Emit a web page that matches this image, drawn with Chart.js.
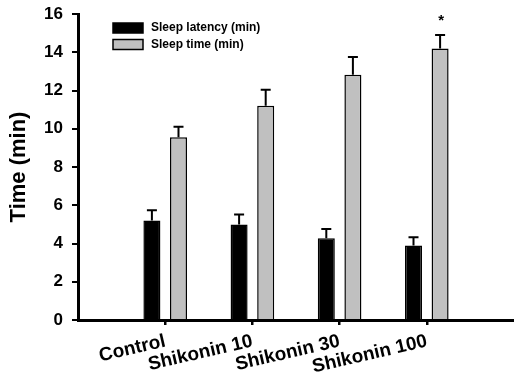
<!DOCTYPE html>
<html>
<head>
<meta charset="utf-8">
<script src="https://cdn.jsdelivr.net/npm/chart.js@4/dist/chart.umd.min.js"></script>
<style>
  html, body { margin: 0; padding: 0; background: #fff; }
  #wrap { width: 514px; height: 375px; }
</style>
</head>
<body>
<div id="wrap"><canvas id="sleep"></canvas></div>
<script>
const categories = ['Control', 'Shikonin 10', 'Shikonin 30', 'Shikonin 100'];
const latency = [5.2, 5.0, 4.27, 3.9];
const latencyErr = [0.54, 0.51, 0.49, 0.43];
const sleepTime = [9.55, 11.2, 12.82, 14.2];
const sleepErr = [0.55, 0.84, 0.93, 0.7];
const sleepSig = ['', '', '', '*'];
const yTicks = [0, 2, 4, 6, 8, 10, 12, 14, 16];

const FONT = 'Liberation Sans, Arial, sans-serif';
const errors = [latencyErr, sleepErr];
const marks = [null, sleepSig];

// upper error bars + significance star
const errorBars = {
    id: 'errorBars',
    afterDatasetsDraw(chart) {
        const ctx = chart.ctx;
        const y = chart.scales.y;
        ctx.save();
        ctx.strokeStyle = '#000';
        ctx.lineWidth = 2;
        chart.data.datasets.forEach((ds, d) => {
            chart.getDatasetMeta(d).data.forEach((bar, i) => {
                const top = y.getPixelForValue(ds.data[i].y + errors[d][i]);
                ctx.beginPath();
                ctx.moveTo(bar.x, bar.y);
                ctx.lineTo(bar.x, top);
                ctx.moveTo(bar.x - 5, top);
                ctx.lineTo(bar.x + 5, top);
                ctx.stroke();
                if (marks[d] && marks[d][i]) {
                    ctx.fillStyle = '#000';
                    ctx.font = 'bold 15px ' + FONT;
                    ctx.textAlign = 'center';
                    ctx.textBaseline = 'middle';
                    ctx.fillText(marks[d][i], bar.x + 1, top - 14);
                }
            });
        });
        ctx.restore();
    }
};

// legend drawn inside the plot, top left
const innerLegend = {
    id: 'innerLegend',
    afterDraw(chart) {
        const ctx = chart.ctx;
        const x0 = chart.chartArea.left + 35;
        ctx.save();
        ctx.font = 'bold 12px ' + FONT;
        ctx.textBaseline = 'middle';
        ctx.textAlign = 'left';
        chart.data.datasets.forEach((ds, d) => {
            const yc = chart.chartArea.top + 14 + d * 16.5;
            ctx.fillStyle = ds.backgroundColor;
            ctx.fillRect(x0, yc - 5, 30, 10);
            ctx.lineWidth = 1.5;
            ctx.strokeStyle = '#000';
            ctx.strokeRect(x0, yc - 5, 30, 10);
            ctx.fillStyle = '#000';
            ctx.fillText(ds.label, x0 + 38, yc);
        });
        ctx.restore();
    }
};

const ctx = document.getElementById('sleep').getContext('2d');
const sleepChart = new Chart(ctx, {
    type: 'bar',
    data: {
        datasets: [
            {
                label: 'Sleep latency (min)',
                data: latency.map((v, i) => ({ x: i, y: v })),
                backgroundColor: '#000000',
                borderColor: '#000000',
                borderWidth: 1.5
            },
            {
                label: 'Sleep time (min)',
                data: sleepTime.map((v, i) => ({ x: i, y: v })),
                backgroundColor: '#c0c0c0',
                borderColor: '#000000',
                borderWidth: 1.5
            }
        ]
    },
    options: {
        responsive: true,
        maintainAspectRatio: false,
        animation: false,
        layout: { padding: { top: 14, right: 0, left: 0, bottom: 0 } },
        categoryPercentage: 0.61,
        barPercentage: 0.64,
        plugins: {
            legend: { display: false },
            tooltip: { enabled: false }
        },
        scales: {
            x: {
                type: 'linear',
                min: -1,
                max: 4,
                offset: false,
                afterBuildTicks: s => {
                    s.ticks = categories.map((c, i) => ({ value: i }));
                },
                afterFit: s => { s.height = 55; },
                border: { display: true, color: '#000', width: 3 },
                grid: { offset: false, drawOnChartArea: false, drawTicks: true, tickLength: 5, color: '#000', lineWidth: 2.5 },
                ticks: {
                    autoSkip: false,
                    minRotation: 13,
                    maxRotation: 13,
                    padding: 5,
                    color: '#000',
                    font: { family: FONT, size: 19, weight: 'bold' },
                    callback: v => categories[v]
                }
            },
            y: {
                min: 0,
                max: 16,
                afterBuildTicks: s => {
                    s.ticks = yTicks.map(v => ({ value: v }));
                },
                afterFit: s => {
                    s.width = 78;
                    s.paddingTop = 10;
                    s.paddingBottom = 10;
                },
                border: { display: true, color: '#000', width: 3 },
                grid: { drawOnChartArea: false, drawTicks: true, tickLength: 6, color: '#000', lineWidth: 2 },
                ticks: {
                    padding: 9,
                    color: '#000',
                    font: { family: FONT, size: 17, weight: 'bold' }
                },
                title: {
                    display: true,
                    text: 'Time (min)',
                    color: '#000',
                    padding: { top: 8, bottom: 0 },
                    font: { family: FONT, size: 22, weight: 'bold', lineHeight: 1 }
                }
            }
        }
    },
    plugins: [errorBars, innerLegend]
});
</script>
</body>
</html>
